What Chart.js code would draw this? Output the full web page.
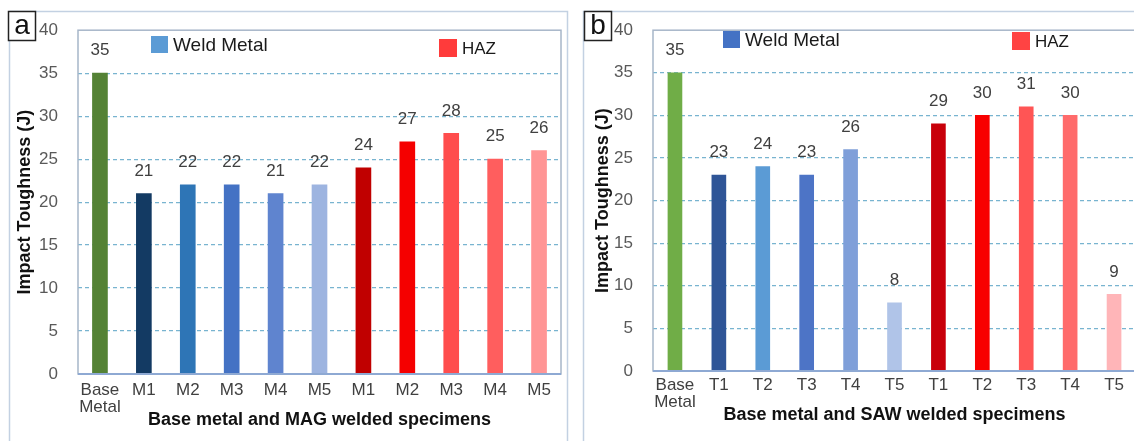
<!DOCTYPE html>
<html>
<head>
<meta charset="utf-8">
<script src="https://cdn.jsdelivr.net/npm/chart.js@4.4.0/dist/chart.umd.min.js"></script>
<style>
  html, body { margin: 0; padding: 0; background: #fff; overflow: hidden; width: 1134px; height: 441px; }
  canvas { position: absolute; top: 0; }
  #magChart { left: 0; }
  #sawChart { left: 576px; }
</style>
</head>
<body>
<canvas id="magChart" width="572" height="441"></canvas>
<canvas id="sawChart" width="564" height="441"></canvas>
<script>
// data
const magLabels = [['Base', 'Metal'], 'M1', 'M2', 'M3', 'M4', 'M5', 'M1', 'M2', 'M3', 'M4', 'M5'];
const magValues = [35, 21, 22, 22, 21, 22, 24, 27, 28, 25, 26];
const sawLabels = [['Base', 'Metal'], 'T1', 'T2', 'T3', 'T4', 'T5', 'T1', 'T2', 'T3', 'T4', 'T5'];
const sawValues = [35, 23, 24, 23, 26, 8, 29, 30, 31, 30, 9];
const yTicks = [0, 5, 10, 15, 20, 25, 30, 35, 40];

const magColors = ['#548235', '#133a63', '#2e75b6', '#4472c4', '#5f84cf', '#9db4e0',
                   '#c00000', '#f50000', '#ff4d4d', '#ff5e5e', '#ff9595'];
const sawColors = ['#70ad47', '#2f5597', '#5b9bd5', '#4d74c6', '#7f9fd9', '#b0c4e8',
                   '#c8000a', '#f80000', '#ff5555', '#ff6b6b', '#ffb5b8'];

const FONT = '"Liberation Sans", Arial, sans-serif';

// frame, panel letter, legend and value labels
const decorPlugin = {
    id: 'decor',
    afterDraw(chart, args, opts) {
        const ctx = chart.ctx;
        const area = chart.chartArea;
        ctx.save();

        // outer panel border
        ctx.strokeStyle = '#c3d1e2';
        ctx.lineWidth = 1.5;
        ctx.strokeRect(opts.panel[0], opts.panel[1], opts.panel[2], opts.panel[3]);

        // plot area frame
        ctx.strokeStyle = '#a7b6c9';
        ctx.lineWidth = 1.5;
        ctx.strokeRect(area.left, area.top, area.right - area.left, area.bottom - area.top);
        ctx.strokeStyle = '#8ea9d3';
        ctx.lineWidth = 2;
        ctx.beginPath();
        ctx.moveTo(area.left, area.bottom);
        ctx.lineTo(area.right, area.bottom);
        ctx.stroke();

        // panel letter box
        const b = opts.letterBox;
        ctx.fillStyle = '#fff';
        ctx.fillRect(b[0], b[1], b[2], b[3]);
        ctx.strokeStyle = '#222';
        ctx.lineWidth = 1.5;
        ctx.strokeRect(b[0], b[1], b[2], b[3]);
        ctx.fillStyle = '#111';
        ctx.font = '28px ' + FONT;
        ctx.textAlign = 'center';
        ctx.textBaseline = 'middle';
        ctx.fillText(opts.letter, b[0] + b[2] / 2, b[1] + b[3] / 2);

        // legend
        opts.legend.forEach(item => {
            ctx.fillStyle = item.color;
            ctx.fillRect(item.x, item.y, item.size, item.size);
            ctx.fillStyle = '#1a1a1a';
            ctx.font = item.fontSize + 'px ' + FONT;
            ctx.textAlign = 'left';
            ctx.textBaseline = 'middle';
            ctx.fillText(item.text, item.x + item.size + 5, item.y + item.size / 2 + 1);
        });

        // value labels above bars
        const meta = chart.getDatasetMeta(0);
        const values = chart.data.datasets[0].data;
        ctx.fillStyle = '#404040';
        ctx.font = '17px ' + FONT;
        ctx.textAlign = 'center';
        ctx.textBaseline = 'bottom';
        meta.data.forEach((bar, i) => {
            ctx.fillText(String(values[i]), bar.x, bar.y - 14);
        });
        ctx.restore();
    }
};

function makeChart(canvasId, labels, values, colors, cfg) {
    return new Chart(document.getElementById(canvasId), {
        type: 'bar',
        data: {
            labels: labels,
            datasets: [{
                data: values,
                backgroundColor: colors,
                barThickness: cfg.barThickness,
                borderWidth: 0
            }]
        },
        options: {
            responsive: false,
            animation: false,
            layout: { padding: cfg.padding },
            plugins: {
                legend: { display: false },
                tooltip: { enabled: false },
                decor: cfg.decor
            },
            scales: {
                x: {
                    grid: { display: false, drawTicks: false },
                    border: { display: false },
                    ticks: {
                        color: '#404040',
                        padding: cfg.xTickPad,
                        font: { family: FONT, size: 17, lineHeight: 1.0 },
                        maxRotation: 0,
                        autoSkip: false
                    },
                    title: {
                        display: true,
                        text: cfg.xTitle,
                        color: '#111',
                        font: { family: FONT, size: 18, weight: 'bold' },
                        padding: { top: 0, bottom: cfg.xTitlePad }
                    },
                    afterFit: s => { s.height = cfg.xHeight; }
                },
                y: {
                    min: 0,
                    max: 40,
                    afterBuildTicks: s => { s.ticks = yTicks.map(v => ({ value: v })); },
                    grid: {
                        drawTicks: false,
                        color: c => (c.tick.value === 0 || c.tick.value === 40) ? 'rgba(0,0,0,0)' : '#78b4d0',
                        lineWidth: 1.2
                    },
                    border: { display: false, dash: [4, 3] },
                    ticks: {
                        color: '#595959',
                        padding: 20,
                        font: { family: FONT, size: 17 }
                    },
                    title: {
                        display: true,
                        text: 'Impact Toughness (J)',
                        color: '#111',
                        font: { family: FONT, size: 18, weight: 'bold' },
                        padding: { top: cfg.yTitlePad, bottom: 0 }
                    },
                    afterFit: s => { s.width = cfg.yWidth; }
                }
            }
        },
        plugins: [decorPlugin]
    });
}

makeChart('magChart', magLabels, magValues, magColors, {
    barThickness: 15,
    padding: { left: 0, top: 24, right: 11, bottom: 0 },
    xHeight: 67,
    yWidth: 78,
    xTickPad: 8,
    xTitlePad: 10,
    yTitlePad: 14,
    xTitle: 'Base metal and MAG welded specimens',
    decor: {
        panel: [9.5, 11.5, 558, 440],
        letterBox: [8.5, 11.5, 27, 29],
        letter: 'a',
        legend: [
            { text: 'Weld Metal', color: '#5b9bd5', x: 151, y: 36, size: 17, fontSize: 19 },
            { text: 'HAZ', color: '#ff3b3b', x: 439, y: 39, size: 18, fontSize: 17 }
        ]
    }
});

makeChart('sawChart', sawLabels, sawValues, sawColors, {
    barThickness: 14,
    padding: { left: 0, top: 23, right: 4, bottom: 0 },
    xHeight: 70,
    yWidth: 77,
    xTickPad: 6,
    xTitlePad: 15,
    yTitlePad: 16,
    xTitle: 'Base metal and SAW welded specimens',
    decor: {
        panel: [7.5, 11.5, 600, 440],
        letterBox: [8.5, 11.5, 27, 29],
        letter: 'b',
        legend: [
            { text: 'Weld Metal', color: '#4472c4', x: 147, y: 31, size: 17, fontSize: 19 },
            { text: 'HAZ', color: '#ff4343', x: 436, y: 32, size: 18, fontSize: 17 }
        ]
    }
});
</script>
</body>
</html>
